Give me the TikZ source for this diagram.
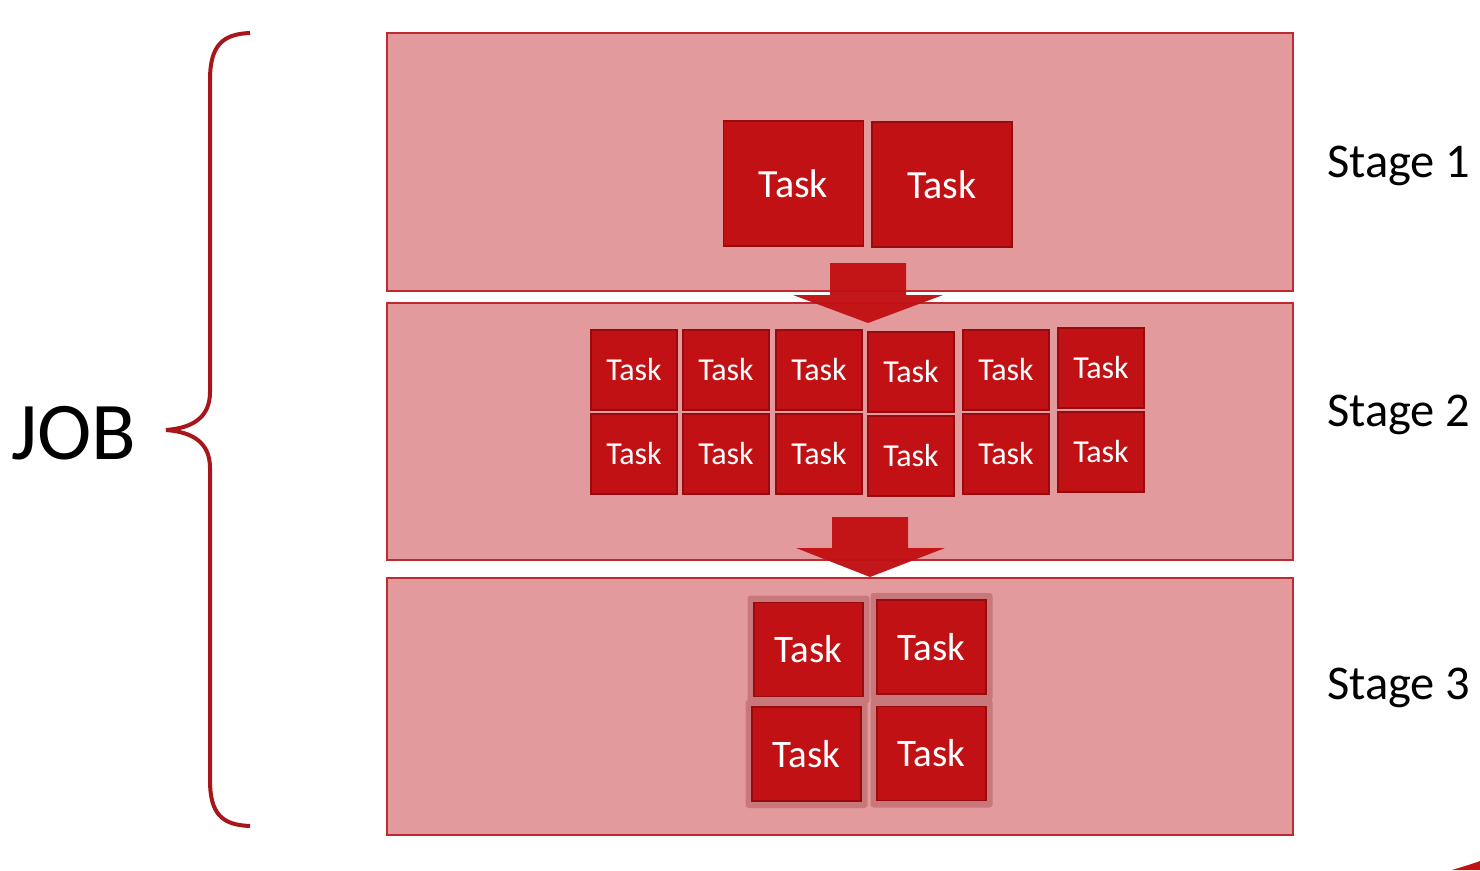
\documentclass[tikz,border=0pt]{standalone}
\usepackage{fontspec}
\setmainfont{Carlito}
\definecolor{stagefill}{HTML}{E39A9C}
\definecolor{stageline}{HTML}{BE2A30}
\definecolor{taskfill}{HTML}{C21114}
\definecolor{taskline}{HTML}{970A0D}
\definecolor{halo}{HTML}{C8777B}
\definecolor{bracecol}{HTML}{A8161C}
\begin{document}
\begin{tikzpicture}[x=1pt,y=-1pt,
  stagebox/.style={draw=stageline,fill=stagefill,line width=2.2pt,inner sep=0pt},
  taskbox/.style={draw=taskline,fill=taskfill,line width=1.5pt,inner sep=0pt,text=white},
  bigtask/.style={taskbox,minimum width=140pt,minimum height=125pt,font=\fontsize{40}{42}\selectfont},
  smalltask/.style={taskbox,minimum width=86pt,minimum height=80pt,font=\fontsize{32}{34}\selectfont},
  midtask/.style={taskbox,minimum width=109pt,minimum height=94pt,font=\fontsize{39}{41}\selectfont},
  stagelabel/.style={font=\fontsize{48.5}{51}\selectfont,anchor=west,inner sep=0pt},
  flowarrow/.style={fill=taskfill,fill opacity=0.97}]
\useasboundingbox[fill=white] (0,0) rectangle (1480,870);

% stage panels
\node[stagebox,minimum width=906pt,minimum height=258pt] (s1) at (840,162) {};
\node[stagebox,minimum width=906pt,minimum height=257pt] (s2) at (840,431.5) {};
\node[stagebox,minimum width=906pt,minimum height=257pt] (s3) at (840,706.5) {};

% stage 1 tasks
\node[bigtask] (t1a) at (793.5,183.5) {Task};
\node[bigtask] (t1b) at (942,184.5) {Task};

% stage 2 tasks (two rows of six)
\foreach \i/\cx/\dy in {1/634/0,2/726/0,3/819/0,4/911/2,5/1006/0,6/1101/-2}{
  \node[smalltask] (t2a\i) at (\cx,370+\dy) {Task};
  \node[smalltask] (t2b\i) at (\cx,454+\dy) {Task};
}

% stage 3 tasks with their soft surrounds
\foreach \n/\cx/\cy in {a/808.5/649.5,b/931.5/647,c/806.5/754,d/931.5/753.5}{
  \fill[halo,rounded corners=3pt] (\cx-61,\cy-54) rectangle (\cx+61,\cy+54);
}
\node[midtask] (t3a) at (808.5,649.5) {Task};
\node[midtask] (t3b) at (931.5,647) {Task};
\node[midtask] (t3c) at (806.5,754) {Task};
\node[midtask] (t3d) at (931.5,753.5) {Task};

% block arrows between stages
\fill[flowarrow] (830,263) -- (906,263) -- (906,295) -- (943,295) -- (868,323)
  -- (793,295) -- (830,295) -- cycle;
\fill[flowarrow] (832,517) -- (908,517) -- (908,548) -- (945,548) -- (870,577)
  -- (796,548) -- (832,548) -- cycle;

% stage labels
\node[stagelabel] (l1) at (1327,166) {Stage 1};
\node[stagelabel] (l2) at (1327,415) {Stage 2};
\node[stagelabel] (l3) at (1327,688) {Stage 3};

% job brace and label
\draw[bracecol,line width=4pt]
  (250,33) .. controls (222,34) and (210,46) .. (210,80) -- (210,392)
  .. controls (210,418) and (192,428) .. (166,430)
  .. controls (192,432) and (210,442) .. (210,468) -- (210,780)
  .. controls (210,814) and (222,825) .. (250,826);
\node[font=\fontsize{82}{86}\selectfont,inner sep=0pt] (job) at (74,433) {JOB};

% corner sliver
\fill[taskfill] (1452,870) .. controls (1465,866) and (1472,864) .. (1480,861) -- (1480,870) -- cycle;
\end{tikzpicture}
\end{document}
